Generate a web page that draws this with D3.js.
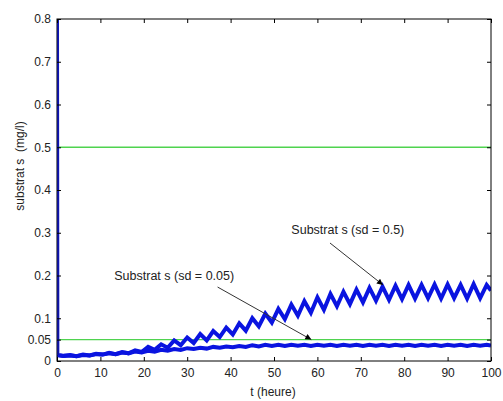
<!DOCTYPE html>
<html>
<head>
<meta charset="utf-8">
<script src="https://cdn.jsdelivr.net/npm/d3@7"></script>
<style>
  body { margin: 0; background: #fff; }
  text { font-family: "Liberation Sans", Arial, sans-serif; fill: #222; }
</style>
</head>
<body>
<svg id="chart"></svg>
<script>
// time grid (heure)
const tHours = [0, 0.05, 1.5, 3, 4.5, 6, 7.5, 9, 10.5, 12, 13.5, 15, 16.5, 18, 19.5,
  21, 22.5, 24, 25.5, 27, 28.5, 30, 31.5, 33, 34.5, 36, 37.5, 39, 40.5, 42, 43.5,
  45, 46.5, 48, 49.5, 51, 52.5, 54, 55.5, 57, 58.5, 60, 61.5, 63, 64.5, 66, 67.5,
  69, 70.5, 72, 73.5, 75, 76.5, 78, 79.5, 81, 82.5, 84, 85.5, 87, 88.5, 90, 91.5,
  93, 94.5, 96, 97.5, 99, 100];

// substrat s, sd = 0.5
const sHigh = [0.80, 0.014, 0.012, 0.014, 0.011, 0.015, 0.013, 0.017, 0.015, 0.019, 0.016, 0.021, 0.018, 0.025, 0.021,
  0.033, 0.026, 0.039, 0.031, 0.048, 0.037, 0.055, 0.042, 0.063, 0.048, 0.070, 0.056, 0.078, 0.062, 0.088, 0.071,
  0.100, 0.081, 0.111, 0.090, 0.122, 0.098, 0.132, 0.106, 0.140, 0.113, 0.149, 0.120, 0.157, 0.128, 0.162, 0.133,
  0.167, 0.137, 0.171, 0.141, 0.174, 0.143, 0.176, 0.145, 0.178, 0.146, 0.178, 0.147, 0.179, 0.146, 0.179, 0.147,
  0.178, 0.146, 0.180, 0.147, 0.178, 0.165];

// substrat s, sd = 0.05
const sLow = [0.80, 0.014, 0.012, 0.013, 0.011, 0.014, 0.013, 0.016, 0.015, 0.018, 0.016, 0.020, 0.018, 0.022, 0.020,
  0.024, 0.022, 0.026, 0.024, 0.028, 0.026, 0.030, 0.028, 0.031, 0.029, 0.033, 0.031, 0.034, 0.032, 0.035, 0.033,
  0.037, 0.034, 0.038, 0.035, 0.038, 0.035, 0.038, 0.036, 0.038, 0.035, 0.038, 0.036, 0.038, 0.035, 0.038, 0.036,
  0.038, 0.035, 0.038, 0.036, 0.038, 0.035, 0.038, 0.036, 0.038, 0.035, 0.038, 0.036, 0.038, 0.035, 0.038, 0.036,
  0.038, 0.035, 0.038, 0.036, 0.038, 0.036];

const refLevels = [0.5, 0.05];

const xTicks = [0, 10, 20, 30, 40, 50, 60, 70, 80, 90, 100];
const yTicks = [0, 0.05, 0.1, 0.2, 0.3, 0.4, 0.5, 0.6, 0.7, 0.8];
const yTickLabels = ["0", "0.05", "0.1", "0.2", "0.3", "0.4", "0.5", "0.6", "0.7", "0.8"];

const notes = [
  { label: "Substrat s (sd = 0.05)", tx: 13.2, ty: 0.19, x1: 37, y1: 0.173, x2: 58.6, y2: 0.05 },
  { label: "Substrat s (sd = 0.5)", tx: 54, ty: 0.296, x1: 62.9, y1: 0.276, x2: 75.1, y2: 0.178 }
];

const W = 503, H = 401;
const mLeft = 57, mRight = 491, mTop = 19, mBottom = 361;

const svg = d3.select("#chart").attr("width", W).attr("height", H);
svg.append("rect").attr("width", W).attr("height", H).attr("fill", "#fff");

const x = d3.scaleLinear().domain([0, 100]).range([mLeft, mRight]);
const y = d3.scaleLinear().domain([0, 0.8]).range([mBottom, mTop]);

const defs = svg.append("defs");
defs.append("clipPath").attr("id", "clip")
  .append("rect").attr("x", mLeft).attr("y", mTop)
  .attr("width", mRight - mLeft).attr("height", mBottom - mTop);

defs.append("marker")
  .attr("id", "head").attr("viewBox", "0 0 10 10")
  .attr("refX", 10).attr("refY", 5)
  .attr("markerWidth", 8).attr("markerHeight", 6)
  .attr("markerUnits", "userSpaceOnUse")
  .attr("orient", "auto")
  .append("path").attr("d", "M0,0 L10,5 L0,10 z").attr("fill", "#000");

const plot = svg.append("g").attr("clip-path", "url(#clip)");

// reference levels
plot.selectAll(".ref")
  .data(refLevels)
  .enter()
  .append("line")
  .attr("x1", mLeft).attr("x2", mRight)
  .attr("y1", d => y(d)).attr("y2", d => y(d))
  .attr("stroke", "#4fd34f")
  .attr("stroke-width", 1.3);

const line = d3.line()
  .x((d, i) => x(tHours[i]))
  .y(d => y(d));

[sLow, sHigh].forEach(series => {
  plot.append("path")
    .datum(series)
    .attr("d", line)
    .attr("fill", "none")
    .attr("stroke", "#0a14e0")
    .attr("stroke-width", 4)
    .attr("stroke-linejoin", "miter");
});

// axes box
svg.append("rect")
  .attr("x", mLeft).attr("y", mTop)
  .attr("width", mRight - mLeft).attr("height", mBottom - mTop)
  .attr("fill", "none").attr("stroke", "#000").attr("stroke-width", 1);

// blue left edge from the initial value, drawn over the box
svg.append("g").attr("clip-path", "url(#clip)")
  .append("path")
  .datum(sHigh.slice(0, 2))
  .attr("d", line)
  .attr("fill", "none")
  .attr("stroke", "#10148c")
  .attr("stroke-width", 3);

const tick = 4;
svg.append("g")
  .attr("transform", `translate(0,${mBottom})`)
  .call(d3.axisBottom(x).tickValues(xTicks).tickSize(-tick).tickPadding(7))
  .call(g => g.select(".domain").remove());

svg.append("g")
  .attr("transform", `translate(0,${mTop})`)
  .call(d3.axisTop(x).tickValues(xTicks).tickSize(-tick).tickFormat(""))
  .call(g => g.select(".domain").remove());

svg.append("g")
  .attr("transform", `translate(${mLeft},0)`)
  .call(d3.axisLeft(y).tickValues(yTicks).tickSize(-tick).tickPadding(6)
    .tickFormat((d, i) => yTickLabels[i]))
  .call(g => g.select(".domain").remove());

svg.append("g")
  .attr("transform", `translate(${mRight},0)`)
  .call(d3.axisRight(y).tickValues(yTicks).tickSize(-tick).tickFormat(""))
  .call(g => g.select(".domain").remove());

svg.selectAll(".tick line").attr("stroke", "#000");
svg.selectAll(".tick text")
  .style("font-family", "'Liberation Sans', Arial, sans-serif")
  .style("font-size", "12px")
  .attr("fill", "#333");

// axis labels
svg.append("text")
  .attr("x", 273).attr("y", 396)
  .attr("text-anchor", "middle")
  .style("font-size", "12px")
  .text("t (heure)");

svg.append("text")
  .attr("transform", `translate(24,166) rotate(-90)`)
  .attr("text-anchor", "middle")
  .style("font-size", "12px")
  .style("white-space", "pre")
  .text("substrat s  (mg/l)");

// annotations
const ann = svg.append("g");
notes.forEach(n => {
  ann.append("line")
    .attr("x1", x(n.x1)).attr("y1", y(n.y1))
    .attr("x2", x(n.x2)).attr("y2", y(n.y2))
    .attr("stroke", "#333").attr("stroke-width", 1)
    .attr("marker-end", "url(#head)");
  ann.append("text")
    .attr("x", x(n.tx)).attr("y", y(n.ty))
    .style("font-size", "12.5px")
    .text(n.label);
});
</script>
</body>
</html>
